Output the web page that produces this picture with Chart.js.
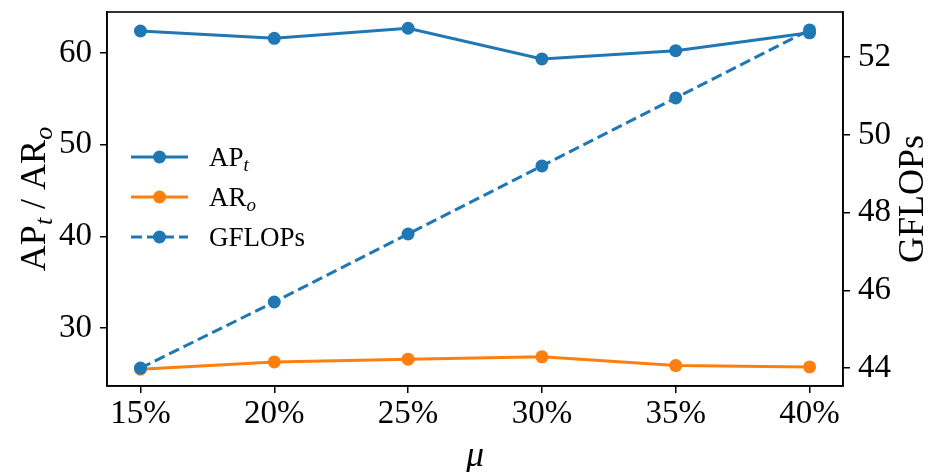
<!DOCTYPE html>
<html>
<head>
<meta charset="utf-8">
<script src="https://cdn.jsdelivr.net/npm/chart.js@4.4.1/dist/chart.umd.min.js"></script>
<style>
  html, body { margin: 0; padding: 0; background: #fff; }
  #wrap { width: 931px; height: 472px; }
</style>
</head>
<body>
<div id="wrap"><canvas id="c" width="931" height="472"></canvas></div>
<script>
// data
const mu = [15, 20, 25, 30, 35, 40];
const apT = [62.4, 61.6, 62.7, 59.35, 60.25, 62.2];
const arO = [25.5, 26.3, 26.6, 26.85, 25.9, 25.75];
const gflops = [44.0, 45.7, 47.45, 49.2, 50.95, 52.7];

const leftTicks = [30, 40, 50, 60];
const rightTicks = [44, 46, 48, 50, 52];

// labels with subscripts (drawn piecewise)
const apLabel = [{ t: 'AP' }, { t: 't', sub: true }];
const arLabel = [{ t: 'AR' }, { t: 'o', sub: true }];
const gfLabel = [{ t: 'GFLOPs' }];
const leftTitle = [{ t: 'AP' }, { t: 't', sub: true }, { t: ' / AR' }, { t: 'o', sub: true }];

const BLUE = '#1f77b4';
const ORANGE = '#ff7f0e';
const FONT = "'Liberation Serif', 'Times New Roman', serif";
const DASH = [11, 5];

const pts = (ys) => mu.map((x, i) => ({ x: x, y: ys[i] }));

function partFont(p, size) {
  return p.sub ? `italic ${Math.round(size * 0.72)}px ${FONT}` : `${size}px ${FONT}`;
}

function richWidth(ctx, parts, size) {
  let w = 0;
  parts.forEach(p => { ctx.font = partFont(p, size); w += ctx.measureText(p.t).width; });
  return w;
}

// draw text pieces from x along baseline y
function drawRich(ctx, parts, x, y, size) {
  ctx.textBaseline = 'alphabetic';
  ctx.textAlign = 'left';
  parts.forEach(p => {
    ctx.font = partFont(p, size);
    ctx.fillText(p.t, x, p.sub ? y + size * 0.2 : y);
    x += ctx.measureText(p.t).width;
  });
}

function drawVertical(ctx, parts, x, cy, size) {
  ctx.save();
  ctx.translate(x, cy);
  ctx.rotate(-Math.PI / 2);
  drawRich(ctx, parts, -richWidth(ctx, parts, size) / 2, 0, size);
  ctx.restore();
}

const legendRows = [
  { color: BLUE, dash: [], parts: apLabel },
  { color: ORANGE, dash: [], parts: arLabel },
  { color: BLUE, dash: DASH, parts: gfLabel }
];

const overlay = {
  id: 'overlay',
  afterDraw(chart) {
    const { ctx, chartArea: a } = chart;
    ctx.save();
    ctx.strokeStyle = '#000';
    ctx.lineWidth = 1.6;
    ctx.strokeRect(a.left, a.top, a.right - a.left, a.bottom - a.top);

    ctx.fillStyle = '#000';
    drawVertical(ctx, leftTitle, 45, (a.top + a.bottom) / 2, 36);
    drawVertical(ctx, gfLabel, 923, (a.top + a.bottom) / 2, 36);

    // legend
    legendRows.forEach((r, i) => {
      const y = 157 + i * 40;
      ctx.strokeStyle = r.color;
      ctx.fillStyle = r.color;
      ctx.lineWidth = 3;
      ctx.setLineDash(r.dash);
      ctx.beginPath();
      ctx.moveTo(131, y);
      ctx.lineTo(188, y);
      ctx.stroke();
      ctx.setLineDash([]);
      ctx.beginPath();
      ctx.arc(159.5, y, 6.5, 0, Math.PI * 2);
      ctx.fill();
      ctx.fillStyle = '#000';
      drawRich(ctx, r.parts, 209, y + 9, 27);
    });
    ctx.restore();
  }
};

const tickFont = { family: FONT, size: 33 };

// fixed box sizes so the plot frame sits where the original one does
const fixX = (s) => { s.height = 86; s.paddingLeft = 0; s.paddingRight = 0; };
const fixLeft = (s) => { s.width = 107; s.paddingTop = 0; s.paddingBottom = 0; };
const fixRight = (s) => { s.width = 88; s.paddingTop = 0; s.paddingBottom = 0; };

new Chart(document.getElementById('c'), {
  type: 'line',
  data: {
    datasets: [
      {
        label: 'APt', data: pts(apT), yAxisID: 'y', order: 2,
        borderColor: BLUE, backgroundColor: BLUE, borderWidth: 3,
        pointRadius: 6.5, pointBorderWidth: 0, pointBackgroundColor: BLUE
      },
      {
        label: 'ARo', data: pts(arO), yAxisID: 'y', order: 1,
        borderColor: ORANGE, backgroundColor: ORANGE, borderWidth: 3,
        pointRadius: 6.5, pointBorderWidth: 0, pointBackgroundColor: ORANGE
      },
      {
        label: 'GFLOPs', data: pts(gflops), yAxisID: 'y1', order: 0,
        borderColor: BLUE, backgroundColor: BLUE, borderWidth: 3, borderDash: DASH,
        pointRadius: 6.5, pointBorderWidth: 0, pointBackgroundColor: BLUE
      }
    ]
  },
  options: {
    responsive: false,
    animation: false,
    devicePixelRatio: 1,
    layout: { padding: { top: 12, left: 0, right: 0, bottom: 0 } },
    plugins: {
      legend: { display: false },
      tooltip: { enabled: false }
    },
    scales: {
      x: {
        type: 'linear',
        min: 13.75,
        max: 41.25,
        afterBuildTicks: (s) => { s.ticks = mu.map(v => ({ value: v })); },
        afterFit: fixX,
        ticks: {
          color: '#000', font: tickFont, padding: 2, maxRotation: 0,
          callback: (v) => v + '%'
        },
        grid: { drawOnChartArea: false, tickLength: 7, color: '#000', lineWidth: 1.5 },
        border: { color: '#000', width: 1.6 },
        title: {
          display: true, text: 'μ', color: '#000',
          font: { family: FONT, size: 36, style: 'italic', lineHeight: 0.75 },
          padding: { top: 0, bottom: 2 }
        }
      },
      y: {
        position: 'left',
        min: 23.67,
        max: 64.47,
        afterBuildTicks: (s) => { s.ticks = leftTicks.map(v => ({ value: v })); },
        afterFit: fixLeft,
        ticks: { color: '#000', font: tickFont, padding: 8 },
        grid: { drawOnChartArea: false, tickLength: 7, color: '#000', lineWidth: 1.5 },
        border: { color: '#000', width: 1.6 }
      },
      y1: {
        position: 'right',
        min: 43.54,
        max: 53.16,
        afterBuildTicks: (s) => { s.ticks = rightTicks.map(v => ({ value: v })); },
        afterFit: fixRight,
        ticks: { color: '#000', font: tickFont, padding: 8 },
        grid: { drawOnChartArea: false, tickLength: 7, color: '#000', lineWidth: 1.5 },
        border: { color: '#000', width: 1.6 }
      }
    }
  },
  plugins: [overlay]
});
</script>
</body>
</html>
